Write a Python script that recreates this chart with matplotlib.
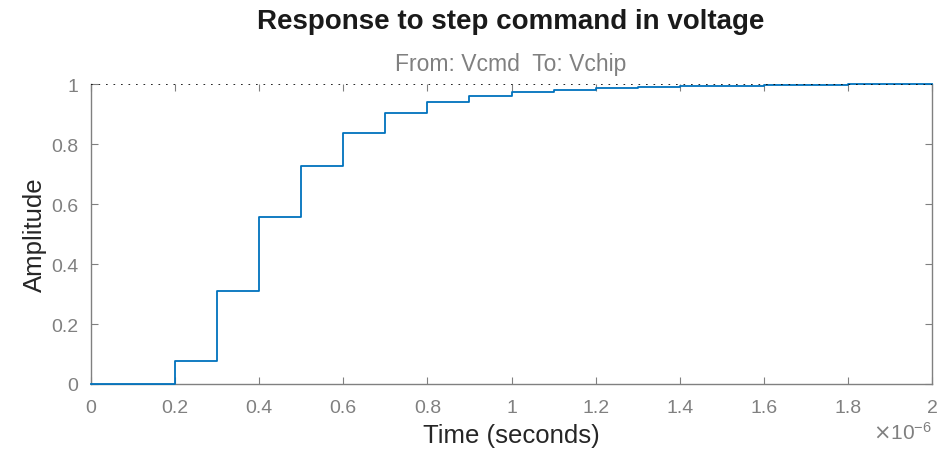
import matplotlib.pyplot as plt
from matplotlib.ticker import ScalarFormatter

plt.rcParams['font.family'] = ['Liberation Sans', 'DejaVu Sans']
plt.rcParams['axes.formatter.use_mathtext'] = True

# step response samples (seconds, amplitude)
sample_time = [0.0, 0.1e-6, 0.2e-6, 0.3e-6, 0.4e-6, 0.5e-6, 0.6e-6, 0.7e-6, 0.8e-6,
               0.9e-6, 1.0e-6, 1.1e-6, 1.2e-6, 1.3e-6, 1.4e-6, 1.5e-6, 1.6e-6,
               1.7e-6, 1.8e-6, 1.9e-6, 2.0e-6]
amplitude = [0.0, 0.0, 0.078, 0.310, 0.558, 0.726, 0.838, 0.904, 0.941,
             0.959, 0.973, 0.981, 0.987, 0.990, 0.993, 0.995, 0.997,
             0.998, 0.999, 0.999, 1.0]
final_value = 1.0

title = "Response to step command in voltage"
subtitle = "From: Vcmd  To: Vchip"
grey = "#808080"


class GFormatter(ScalarFormatter):
  def _set_format(self):
    self.format = "%g"


fig = plt.figure(figsize=(9.42, 4.56), dpi=100)
ax = fig.add_axes([91 / 942, 1 - 385 / 456, 841 / 942, 300 / 456])

ax.step(sample_time, amplitude, where="post", color="#0072BD", lw=1.3,
        zorder=3, clip_on=False)
ax.axhline(final_value, color="k", ls=(0, (1, 3.5)), lw=1.2, zorder=4)

ax.set_xlim(0, 2e-6)
ax.set_ylim(0, 1)
ax.set_xticks([i * 0.2e-6 for i in range(11)])
ax.set_yticks([0, 0.2, 0.4, 0.6, 0.8, 1])
ax.xaxis.set_major_formatter(GFormatter(useMathText=True))
ax.yaxis.set_major_formatter(GFormatter(useMathText=True))

for s in ax.spines.values():
  s.set_color(grey)
  s.set_linewidth(1.0)
ax.spines["top"].set_visible(False)
ax.tick_params(direction="in", length=5, color=grey, labelcolor=grey,
               labelsize=14, top=True, right=True)
ax.tick_params(axis="x", pad=11)
ax.tick_params(axis="y", pad=9)
ax.xaxis.get_offset_text().set_color(grey)
ax.xaxis.get_offset_text().set_fontsize(15)

ax.set_xlabel("Time (seconds)", fontsize=18.5, color="#262626", labelpad=5)
ax.set_ylabel("Amplitude", fontsize=18.5, color="#262626", labelpad=3)

fig.text(511 / 942, 1 - 22 / 456, title, ha="center", va="center",
         fontsize=20, fontweight="bold", color="#1a1a1a")
fig.text(511 / 942, 1 - 64 / 456, subtitle, ha="center", va="center",
         fontsize=16.5, color=grey)

plt.savefig("out.png", dpi=100)
